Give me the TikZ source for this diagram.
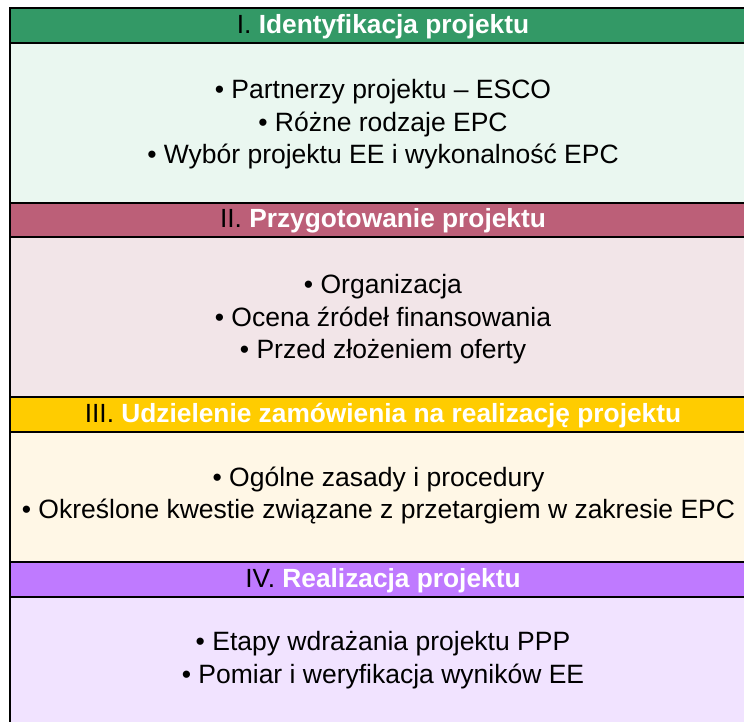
\documentclass[tikz,border=0pt]{standalone}
\usepackage{fontspec}
\setmainfont{Liberation Sans}
\definecolor{hA}{HTML}{339966}
\definecolor{bA}{HTML}{EAF7F0}
\definecolor{hB}{HTML}{BC5F78}
\definecolor{bB}{HTML}{F2E5E8}
\definecolor{hC}{HTML}{FFCC00}
\definecolor{bC}{HTML}{FFF7E6}
\definecolor{hD}{HTML}{BF7AFF}
\definecolor{bD}{HTML}{F1E3FF}
\tikzset{
  band/.style={draw=black, line width=2pt, minimum width=746pt, inner sep=0pt, outer sep=0pt},
  hdrtext/.style={font=\fontsize{26.3}{31}\selectfont, text=white, inner sep=0pt},
  bodytext/.style={font=\fontsize{26.5}{32.5}\selectfont, text=black, align=center, inner sep=0pt}
}
\begin{document}
\begin{tikzpicture}[x=1pt,y=-1pt]
\useasboundingbox (0,0) rectangle (744,722);
\clip (0,0) rectangle (744,722);
\fill[white] (0,0) rectangle (744,722);
% section I
\node[band, fill=bA, minimum height=160pt] (b1) at (383,123) {};
\node[band, fill=hA, minimum height=35pt] (h1) at (383,25.5) {};
\node[hdrtext] (t1) at (383,26.5) {\textcolor{black}{I.} \textbf{Identyfikacja projektu}};
\node[bodytext] (x1) at (383,124.5) {• Partnerzy projektu – ESCO\\• Różne rodzaje EPC\\• Wybór projektu EE i wykonalność EPC};
% section II
\node[band, fill=bB, minimum height=160pt] (b2) at (383,317) {};
\node[band, fill=hB, minimum height=34pt] (h2) at (383,220) {};
\node[hdrtext] (t2) at (383,221) {\textcolor{black}{II.} \textbf{Przygotowanie projektu}};
\node[bodytext] (x2) at (383,319.5) {• Organizacja\\• Ocena źródeł finansowania\\• Przed złożeniem oferty};
% section III
\node[band, fill=bC, minimum height=130pt] (b3) at (383,497) {};
\node[band, fill=hC, minimum height=35pt] (h3) at (383,414.5) {};
\node[hdrtext] (t3) at (383,415.5) {\textcolor{black}{III.} \textbf{Udzielenie zamówienia na realizację projektu}};
\node[bodytext] (x3) at (378.5,495.5) {• Ogólne zasady i procedury\\• Określone kwestie związane z przetargiem w zakresie EPC};
% section IV
\node[band, fill=bD, minimum height=128pt] (b4) at (383,661) {};
\node[band, fill=hD, minimum height=35pt] (h4) at (383,579.5) {};
\node[hdrtext] (t4) at (383,580.5) {\textcolor{black}{IV.} \textbf{Realizacja projektu}};
\node[bodytext] (x4) at (383,660) {• Etapy wdrażania projektu PPP\\• Pomiar i weryfikacja wyników EE};
\end{tikzpicture}
\end{document}
